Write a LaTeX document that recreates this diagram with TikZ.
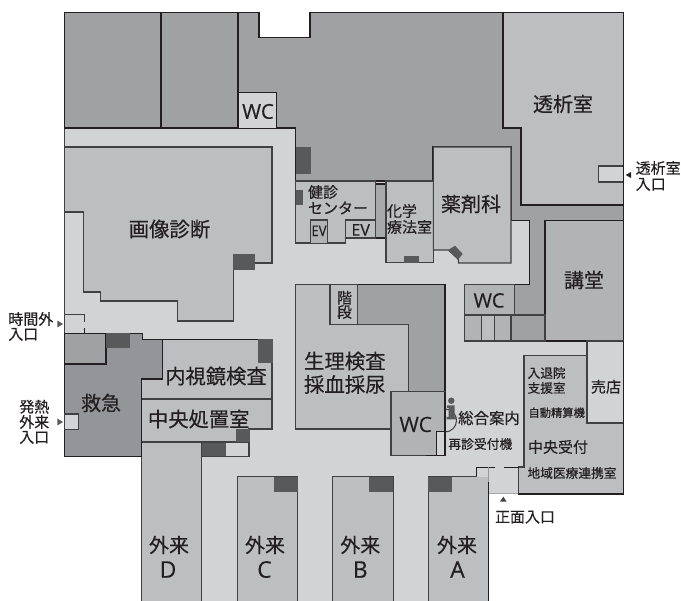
\documentclass[tikz,border=0pt]{standalone}
\usepackage{fontspec}
\setmainfont[FakeBold=0.35,AutoFakeBold=0.35]{Noto Sans CJK JP}
\newfontfamily\latinf[FakeBold=0.3,AutoFakeBold=0.3]{Open Sans}
\definecolor{corr}{HTML}{D1D3D4}
\definecolor{dark}{HTML}{A0A1A3}
\definecolor{mid}{HTML}{BCBEC0}
\definecolor{mid2}{HTML}{B1B3B5}
\definecolor{narrow}{HTML}{A7A9AB}
\definecolor{er}{HTML}{939598}
\definecolor{spot}{HTML}{58595B}
\definecolor{ink}{HTML}{231F20}
\definecolor{wall}{HTML}{414042}
\tikzset{
  room/.style={fill=#1,draw=wall,line width=1.1pt,line join=miter},
  oroom/.style={fill=#1,draw=ink,line width=1.1pt,line join=miter},
  jp/.style={inner sep=0pt,outer sep=0pt,text=ink,font=\bfseries\fontsize{#1}{#1}\selectfont,text height=#1*0.88pt,text depth=#1*0.12pt,anchor=center},
  jpl/.style={jp=#1,anchor=west},
  la/.style={inner sep=0pt,outer sep=0pt,text=ink,font=\latinf\fontsize{#1}{#1}\selectfont,text height=#1*0.88pt,text depth=#1*0.12pt,anchor=center},
  tri/.style={fill=#1,draw=none}
}
\begin{document}
\begin{tikzpicture}[x=1pt,y=-1pt]
\useasboundingbox (0,0) rectangle (681,601);
% corridor base
\fill[corr] (64.5,128) -- (623.5,128) -- (623.5,494) -- (489,494) -- (489,601) -- (141.7,601) -- (141.7,457) -- (64.5,457) -- cycle;
% left wall of the corridor
\draw[wall,line width=1pt] (64.5,128) -- (64.5,333);
% big dark top area
\draw[oroom=dark] (238,12.5) -- (259,12.5) -- (259,37.5) -- (310,37.5) -- (310,12.5) -- (503,12.5) -- (503,128) -- (521,128) -- (521,205) -- (623.5,205) -- (623.5,220.3) -- (545,220.3) -- (545,341) -- (464.3,341) -- (464.3,284.3) -- (529.3,284.3) -- (529.3,220.3) -- (511,220.3) -- (511,147) -- (433,147) -- (433,181) -- (295.5,181) -- (295.5,128) -- (238,128) -- cycle;
\draw[oroom=dark] (64.5,12.5) rectangle (161,128);
\draw[oroom=dark] (161,12.5) rectangle (238,128);
\draw[oroom=corr] (238,128) -- (238,92.3) -- (276.7,92.3) -- (276.7,128);
\node[la=20.5] (wca) at (258,111) {WC};
\fill[spot] (295.5,147) rectangle (311,174);
% dialysis
\draw[oroom=mid] (503,12.5) -- (623.5,12.5) -- (623.5,205) -- (521,205) -- (521,128) -- (503,128) -- cycle;
\draw[room=corr] (623.5,166) -- (598.3,166) -- (598.3,182) -- (623.5,182);
\draw[ink,line width=1.1pt] (623.5,160) -- (623.5,190);
% imaging
\draw[room=mid] (64.5,147) -- (272,147) -- (272,263) -- (233.7,263) -- (233.7,321) -- (177.7,321) -- (177.7,301) -- (100.7,301) -- (100.7,292) -- (83.3,292) -- (83.3,212) -- (64.5,212) -- cycle;
\fill[spot] (233,254) rectangle (255,270);
% health check centre
\fill[narrow] (375.7,184) rectangle (386,238);
\draw[oroom=narrow] (375.7,184) -- (386,184) (386,238) -- (375.7,238);
\draw[room=mid] (295.5,181) -- (375.7,181) -- (375.7,238) -- (345.7,238) -- (345.7,243) -- (295.5,243) -- cycle;
\draw[room=mid2] (310.3,243) -- (310.3,220) -- (327.7,220) -- (327.7,243);
\draw[room=mid] (345.7,238) -- (345.7,220) -- (375.7,220) -- (375.7,238) -- cycle;
\fill[spot] (295.5,190) rectangle (303,205);
% chemo
\draw[room=mid] (386,181) rectangle (433.3,262.7);
\fill[spot] (404,256) rectangle (419,262.7);
% pharmacy
\draw[room=mid] (433.3,147) -- (511,147) -- (511,263) -- (458.3,263) -- (458.3,259.3) -- (448.3,250) -- (433.3,250) -- cycle;
\fill[spot] (455,245.7) -- (462.7,254) -- (458.3,259.3) -- (448.3,250) -- cycle;
% auditorium and rooms
\draw[oroom=mid2] (545,220.3) -- (623.5,220.3) -- (623.5,341) -- (545,341) -- cycle;
\draw[room=mid2] (464.3,284.3) rectangle (514.3,315);
\draw[room=mid2] (464.3,315) rectangle (481.5,341);
\draw[room=mid] (481.5,315) rectangle (494.3,341);
\draw[room=mid2] (494.3,315) rectangle (511,341);
\draw[room=dark] (511,315) rectangle (545,341);
% physiology block
\draw[oroom=dark] (295.5,284.3) rectangle (445,391.7);
\draw[room=mid] (295.5,284.3) -- (330,284.3) -- (330,324.3) -- (408.3,324.3) -- (408.3,391.7) -- (391,391.7) -- (391,429) -- (295.5,429) -- cycle;
\draw[room=mid] (330,284.3) rectangle (357.3,324.3);
% info arc
\draw[wall,line width=1pt,fill=corr] (445,409) arc[start angle=-90,end angle=90,radius=11.5];
% WC centre
\draw[room=mid2] (391,391.7) rectangle (445,455.7);
\draw[ink,line width=1pt,fill=corr] (445,431.5) -- (436.7,431.5) -- (436.7,455.7) -- (445,455.7) -- cycle;
\draw[ink,line width=1.1pt] (445,391.7) -- (445,455.7) -- (426,455.7);
\fill[spot] (451.3,400.7) circle[radius=3.2];
\fill[spot] (446.8,405.5) -- (454.5,405.5) -- (454.5,417) -- (456.5,417) -- (456.5,419.5) -- (446.5,419.5) -- (446.5,417) -- (448.5,417) -- (448.5,408) -- (446.8,408) -- cycle;
% front desk
\draw[room=mid] (524,355.7) -- (587,355.7) -- (587,423) -- (623.5,423) -- (623.5,494) -- (518.3,494) -- (518.3,467) -- (524,467) -- cycle;
\draw[room=corr] (587,341) rectangle (623.5,423);
\draw[ink,line width=1.1pt] (518.3,494) -- (623.5,494) -- (623.5,341);
% entrance
\draw[ink,line width=1.1pt] (476.7,477) -- (476.7,467.5) -- (495,467.5) (504.3,467.5) -- (519,467.5);
\draw[corr!70!wall,line width=1pt] (518.3,494) -- (489,494);
% outpatient
\draw[room=mid] (237.3,601) -- (237.3,476.7) -- (297.7,476.7) -- (297.7,601);
\draw[room=mid] (332.7,601) -- (332.7,476.7) -- (393.3,476.7) -- (393.3,601);
\fill[mid] (428.3,476.7) rectangle (488.7,601);
\draw[wall,line width=1.1pt] (428.3,601) -- (428.3,476.7) -- (477.3,476.7);
\draw[ink,line width=1.1pt] (488.7,482) -- (488.7,601);
\draw[corr!60!wall,line width=1pt] (488.7,467.5) -- (488.7,482);
\fill[spot] (274,476.7) rectangle (297.7,492);
\fill[spot] (369,476.7) rectangle (393.3,492);
\fill[spot] (428.3,476.7) rectangle (452,492);
\draw[room=mid] (141.7,601) -- (141.7,442) -- (201.7,442) -- (201.7,601);
\draw[room=corr] (201.7,442) rectangle (249,456.3);
\fill[spot] (201.7,442) rectangle (226,456.3);
% procedures and endoscopy
\draw[room=mid] (141.7,399) -- (272,399) -- (272,429) -- (249,429) -- (249,442) -- (141.7,442) -- cycle;
\draw[room=mid] (162.7,339.3) -- (272,339.3) -- (272,399) -- (141.7,399) -- (141.7,379) -- (162.7,379) -- cycle;
\draw[ink,line width=1.1pt] (162.7,339.3) -- (272,339.3);
\fill[spot] (258,339) rectangle (273,363);
\fill[spot] (236,429) rectangle (249.5,442);
% emergency
\draw[oroom=er] (64.5,333.3) -- (142.7,333.3) -- (142.7,339.3) -- (162.7,339.3) -- (162.7,379) -- (141.7,379) -- (141.7,456.3) -- (64.5,456.3) -- cycle;
\draw[oroom=dark] (64.5,333.3) -- (106,333.3) -- (106,364) -- (64.5,364) -- cycle;
\fill[spot] (106,333.3) rectangle (130,348);
\draw[room=corr] (64.5,414) rectangle (78.7,429.7);
% after-hours door
\draw[wall,line width=.7pt] (64.5,314.5) -- (84.3,314.5) -- (84.3,322);
\draw[ink,line width=1pt] (84.3,328) -- (84.3,333.3);
% pointers
\fill[tri=spot] (57.3,320.5) -- (63,324) -- (57.3,327.5) -- cycle;
\fill[tri=spot] (57.3,418.5) -- (63,422) -- (57.3,425.5) -- cycle;
\fill[tri=ink] (631,172) -- (625.7,175) -- (631,178) -- cycle;
\fill[tri=wall] (500,501.7) -- (503.3,496.7) -- (506.7,501.7) -- cycle;
% labels
\node[jp=20.4] (t1) at (169.5,229) {画像診断};
\node[jp=20] (t2) at (563,104) {透析室};
\node[jp=20] (t3) at (471,204) {薬剤科};
\node[jp=20] (t4) at (584,280) {講堂};
\node[jpl=15] (t5) at (387,211) {化学};
\node[jpl=15] (t6) at (387,227) {療法室};
\node[jpl=15] (t7) at (308,192) {健診};
\node[jpl=15] (t8) at (308,208) {センター};
\node[la=14.5,xscale=.9] (ev1) at (319,230.5) {EV};
\node[la=16] (ev2) at (360.7,229.5) {EV};
\node[jp=15] (t9) at (344.5,297.7) {階};
\node[jp=15] (t10) at (344.5,312) {段};
\node[jp=20.4] (t11) at (344.8,361) {生理検査};
\node[jp=20.4] (t12) at (344.8,384.5) {採血採尿};
\node[jp=20.3] (t13) at (216,376) {内視鏡検査};
\node[jp=20.3] (t14) at (198.7,419) {中央処置室};
\node[jp=20] (t15) at (101,403) {救急};
\node[jp=20] (t16) at (169,545) {外来};
\node[la=23] (t17) at (168,569) {D};
\node[jp=20] (t18) at (265,545) {外来};
\node[la=23] (t19) at (264.5,569) {C};
\node[jp=20] (t20) at (360.3,545) {外来};
\node[la=23] (t21) at (360.3,569) {B};
\node[jp=20] (t22) at (457,545) {外来};
\node[la=23] (t23) at (457.5,569) {A};
\node[la=20] (wcb) at (489,300) {WC};
\node[la=21] (wcc) at (415.7,424) {WC};
\node[jp=15.4] (t24) at (489,418) {総合案内};
\node[jp=12.8] (t25) at (480.3,444) {再診受付機};
\node[jpl=12.6] (t26) at (527.7,373) {入退院};
\node[jpl=12.6] (t27) at (527.7,388) {支援室};
\node[jp=11.3] (t28) at (556.7,412.7) {自動精算機};
\node[jp=15] (t29) at (606,386.7) {売店};
\node[jp=15] (t30) at (558,447) {中央受付};
\node[jp=12.7] (t31) at (572,473) {地域医療連携室};
\node[jp=15] (t32) at (525,516.7) {正面入口};
\node[jpl=15] (t33) at (635.7,168) {透析室};
\node[jpl=15] (t34) at (635.7,184) {入口};
\node[jpl=15] (t35) at (8.3,319) {時間外};
\node[jpl=15] (t36) at (8.3,334) {入口};
\node[jp=15] (t37) at (34.3,406.7) {発熱};
\node[jp=15] (t38) at (34.3,422) {外来};
\node[jp=15] (t39) at (34.3,437) {入口};
\end{tikzpicture}
\end{document}
